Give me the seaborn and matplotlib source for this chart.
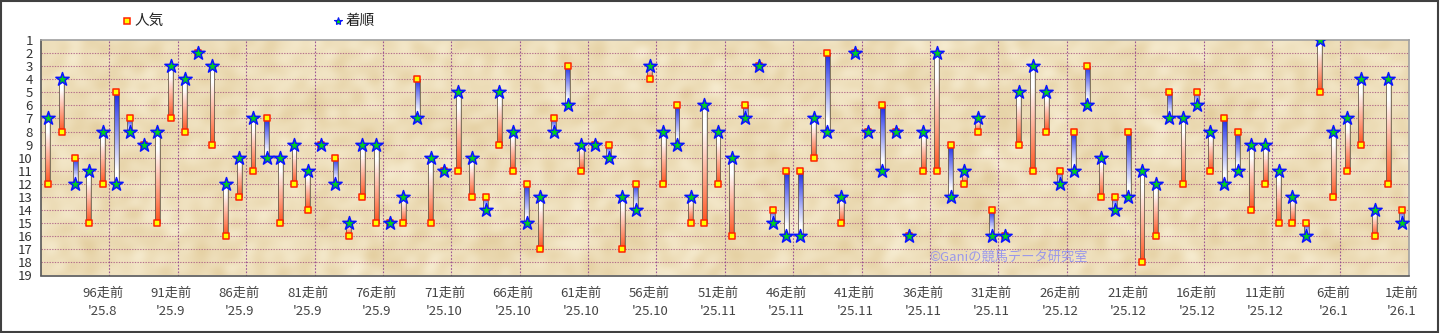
import numpy as np
import pandas as pd
import matplotlib
matplotlib.use("Agg")
import matplotlib.pyplot as plt
from matplotlib.colors import LinearSegmentedColormap, to_rgb
from matplotlib.patches import Rectangle
import seaborn as sns

# ---- data: 100 races, oldest (100走前) first ----
races_ago = list(range(100, 0, -1))
popularity = [12, 8, 10, 15, 12, 5, 7, 9, 15, 7, 8, 2, 9, 16, 13, 11, 7, 15, 12, 14,
              9, 10, 16, 13, 15, 15, 15, 4, 15, 11, 11, 13, 13, 9, 11, 12, 17, 7, 3, 11,
              9, 9, 17, 12, 4, 12, 6, 15, 15, 12, 16, 6, 3, 14, 11, 11, 10, 2, 15, 2,
              8, 6, 8, 16, 11, 11, 9, 12, 8, 14, 16, 9, 11, 8, 11, 8, 3, 13, 13, 8,
              18, 16, 5, 12, 5, 11, 7, 8, 14, 12, 15, 15, 15, 5, 13, 11, 9, 16, 12, 14]
finish = [7, 4, 12, 11, 8, 12, 8, 9, 8, 3, 4, 2, 3, 12, 10, 7, 10, 10, 9, 11,
          9, 12, 15, 9, 9, 15, 13, 7, 10, 11, 5, 10, 14, 5, 8, 15, 13, 8, 6, 9,
          9, 10, 13, 14, 3, 8, 9, 13, 6, 8, 10, 7, 3, 15, 16, 16, 7, 8, 13, 2,
          8, 11, 8, 16, 8, 2, 13, 11, 7, 16, 16, 5, 3, 5, 12, 11, 6, 10, 14, 13,
          11, 12, 7, 7, 6, 8, 12, 11, 9, 9, 11, 13, 16, 1, 8, 7, 4, 14, 4, 15]

tick_races = [96, 91, 86, 81, 76, 71, 66, 61, 56, 51, 46, 41, 36, 31, 26, 21, 16, 11, 6, 1]
tick_months = ["'25.8", "'25.9", "'25.9", "'25.9", "'25.9", "'25.10", "'25.10", "'25.10",
               "'25.10", "'25.11", "'25.11", "'25.11", "'25.11", "'25.11", "'25.12",
               "'25.12", "'25.12", "'25.12", "'26.1", "'26.1"]
y_ticks = list(range(1, 20))

legend_pop = "人気"
legend_fin = "着順"
credit = "©Ganiの競馬データ研究室"

df = pd.DataFrame({"ago": races_ago, "pop": popularity, "fin": finish})
df["pos"] = 100 - df["ago"]

sns.set_style("white")
plt.rcParams["font.family"] = ["Noto Sans CJK JP", "DejaVu Sans"]

fig = plt.figure(figsize=(14.4, 3.33), dpi=100)
fig.patch.set_facecolor("white")
ax = fig.add_axes([41 / 1440, 1 - 275.5 / 333, (1408.7 - 41) / 1440, (275.5 - 40) / 333])

x_lo, x_hi = -0.5, len(races_ago) - 0.5
y_top, y_bot = 1, 19

# ---- parchment background (soft deterministic wave texture) ----
H, W = 236, 1368
yy, xx = np.mgrid[0:H, 0:W].astype(float)
tex = np.zeros((H, W))
for k in range(90):
    ang = k * 2.39996
    fr = 0.05 + 0.35 * ((k * 0.7548776) % 1.0)
    ph = (k * 1.7320508) % (2 * np.pi)
    tex += np.cos(fr * (xx * np.cos(ang) + yy * np.sin(ang)) + ph) / fr ** 0.5
tex = (tex - tex.mean()) / tex.std()
tex = np.clip(0.55 + 0.11 * tex, 0, 1)
c_dark = np.array(to_rgb("#E0C895"))
c_light = np.array(to_rgb("#F8EFD6"))
rgb = c_dark[None, None, :] * (1 - tex[..., None]) + c_light[None, None, :] * tex[..., None]
ax.imshow(rgb, extent=(x_lo, x_hi, y_bot, y_top), aspect="auto", zorder=0,
          interpolation="bilinear")

# ---- grid ----
for v in range(2, 19):
    ax.axhline(v, color="#A24A7C", lw=0.8, ls=(0, (1.2, 1.2)), alpha=0.75, zorder=1)
for r in tick_races[:-1]:
    ax.axvline(100 - r + 0.5, color="#8E3E8E", lw=0.8, ls=(0, (1.5, 1.5)),
               alpha=0.85, zorder=1)

# ---- gradient bars linking finish and popularity ----
red_cmap = LinearSegmentedColormap.from_list(
    "up", [(0, "#FFFFFF"), (0.2, "#FFFFFF"), (1, "#FF5521")])
blue_cmap = LinearSegmentedColormap.from_list(
    "down", [(0, "#1B2AE8"), (0.85, "#FFFFFF"), (1, "#FFFFFF")])
shade = np.array([0.8, 1.0, 1.0, 1.0, 1.0, 1.0, 0.85])
t = np.linspace(0, 1, 80)
half = 0.18
for _, r in df.iterrows():
    p, f, x = r["pop"], r["fin"], r["pos"]
    if p == f:
        continue
    top, bot = min(p, f), max(p, f)
    cmap = red_cmap if f < p else blue_cmap
    col = cmap(t)[:, :3]
    img = col[:, None, :] * shade[None, :, None]
    ax.imshow(img, extent=(x - half, x + half, bot, top), aspect="auto",
              interpolation="bilinear", zorder=3)
    ax.add_patch(Rectangle((x - half, top), 2 * half, bot - top, fill=False,
                           ec="#6F6350", lw=0.6, zorder=3.1))

# ---- markers ----
sns.scatterplot(data=df, x="pos", y="pop", marker="s", s=16, color="#FFFF00",
                edgecolor="#FF2200", linewidth=1.1, ax=ax, zorder=4, legend=False)
sns.scatterplot(data=df, x="pos", y="fin", marker="*", s=100, color="#00D21E",
                edgecolor="#0A14FF", linewidth=1.1, ax=ax, zorder=5, legend=False)

ax.set_xlim(x_lo, x_hi)
ax.set_ylim(y_bot, y_top)

# ---- axes ----
ax.set_yticks(y_ticks)
ax.set_yticklabels([str(v) for v in y_ticks], fontsize=9.5, color="#333333")
ax.tick_params(axis="y", direction="in", length=3, width=0.8, color="#555555", pad=6)
ax.set_xticks([100 - r for r in tick_races])
ax.set_xticklabels([f"{r}走前\n{m}" for r, m in zip(tick_races, tick_months)],
                   fontsize=9.5, color="#444444", linespacing=1.55)
ax.tick_params(axis="x", length=0, pad=8)
ax.set_xlabel("")
ax.set_ylabel("")
for side in ("left", "bottom"):
    ax.spines[side].set_color("#555555")
    ax.spines[side].set_linewidth(1.2)
for side in ("top", "right"):
    ax.spines[side].set_color("#A0A0A0")
    ax.spines[side].set_linewidth(1.2)

ax.text(0.7076, 0.079, credit, transform=ax.transAxes, ha="center", va="center",
        fontsize=9.5, color="#8C8CF2", alpha=0.85, zorder=2)

# ---- legend ----
ly = 1 - 21 / 333
fig.add_artist(plt.Line2D([127 / 1440], [ly], marker="s", markersize=4.5,
                          markerfacecolor="#FFFF00", markeredgecolor="#FF2200",
                          markeredgewidth=1.1, transform=fig.transFigure))
fig.text(135 / 1440, ly, legend_pop, fontsize=10.5, color="#222222", va="center", ha="left")
fig.add_artist(plt.Line2D([338 / 1440], [ly], marker="*", markersize=6,
                          markerfacecolor="#00D21E", markeredgecolor="#0A14FF",
                          markeredgewidth=0.8, transform=fig.transFigure))
fig.text(345 / 1440, ly, legend_fin, fontsize=10.5, color="#222222", va="center", ha="left")

# outer frame
fig.add_artist(Rectangle((0.0007, 0.003), 0.9979, 0.995, transform=fig.transFigure,
                         fill=False, ec="#404040", lw=1.5))

fig.savefig("out.png", dpi=100, facecolor="white")
